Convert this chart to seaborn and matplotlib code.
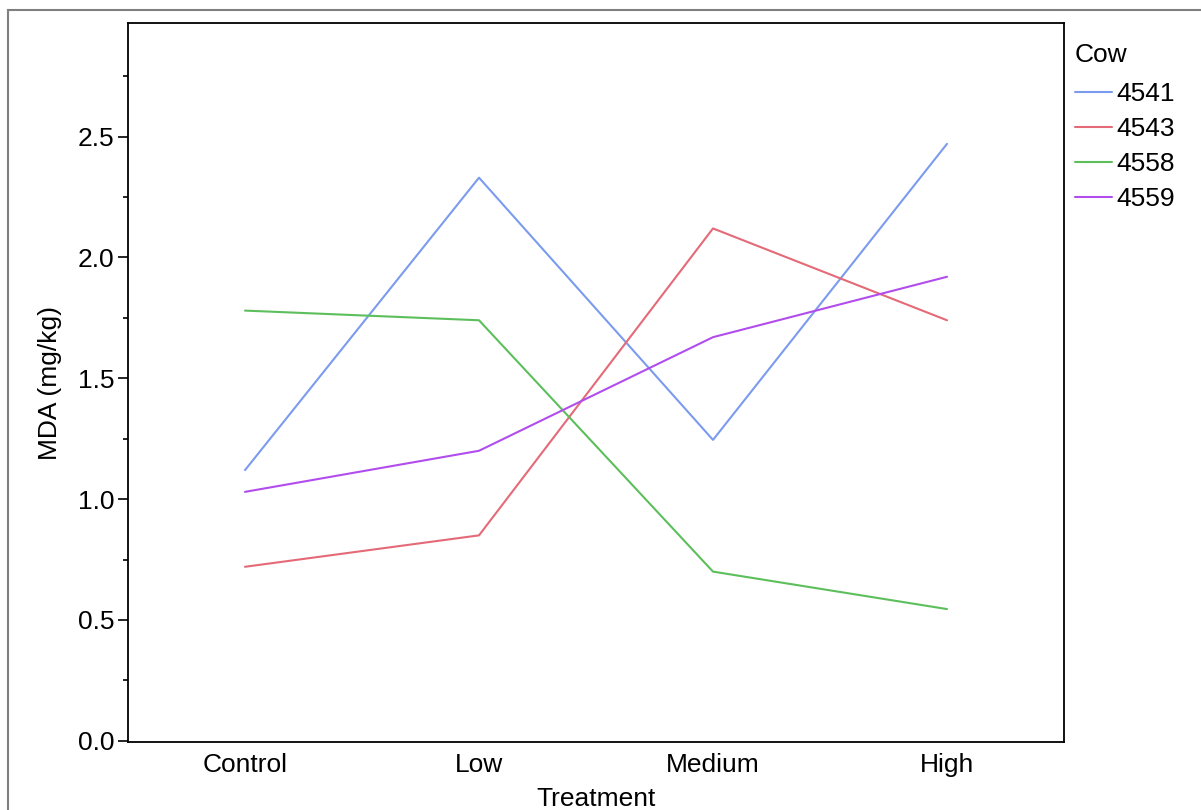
import matplotlib
matplotlib.use("Agg")
import matplotlib.pyplot as plt
import matplotlib.patches as mpatches
from matplotlib.ticker import MultipleLocator
import seaborn as sns
import pandas as pd

treatments = ["Control", "Low", "Medium", "High"]
cows = ["4541", "4543", "4558", "4559"]
mda_4541 = [1.12, 2.33, 1.245, 2.47]
mda_4543 = [0.72, 0.85, 2.12, 1.74]
mda_4558 = [1.78, 1.74, 0.70, 0.545]
mda_4559 = [1.03, 1.20, 1.67, 1.92]
colors = ["#7b9bef", "#e46a78", "#5cbf5c", "#b24ded"]

series = [mda_4541, mda_4543, mda_4558, mda_4559]
rows = []
for cow, vals in zip(cows, series):
    for t, v in zip(treatments, vals):
        rows.append({"Treatment": t, "Cow": cow, "MDA": v})
df = pd.DataFrame(rows)

sns.set_style("white")
plt.rcParams["font.family"] = ["Liberation Sans", "DejaVu Sans"]
plt.rcParams["text.color"] = "black"
plt.rcParams["axes.labelcolor"] = "black"
plt.rcParams["xtick.color"] = "black"
plt.rcParams["ytick.color"] = "black"

FS = 19

fig = plt.figure(figsize=(12.01, 8.10), dpi=100)
ax = fig.add_axes([128/1201, 1-742/810, (1064-128)/1201, (742-23)/810])

sns.lineplot(data=df, x="Treatment", y="MDA", hue="Cow", hue_order=cows,
             palette=dict(zip(cows, colors)), sort=False, linewidth=1.5,
             ax=ax, legend=True)

ax.set_xlim(-0.5, 3.5)
ax.set_ylim(-0.005, 2.97)
ax.yaxis.set_major_locator(MultipleLocator(0.5))
ax.yaxis.set_minor_locator(MultipleLocator(0.25))
ax.yaxis.set_major_formatter(matplotlib.ticker.FormatStrFormatter("%.1f"))
ax.tick_params(axis="y", which="major", length=7, width=1.2, direction="out",
               left=True, labelsize=FS, pad=3, color="black", labelcolor="black")
ax.tick_params(axis="y", which="minor", length=3.5, width=1.2, direction="out",
               left=True, color="black")
ax.tick_params(axis="x", which="major", length=0, labelsize=FS, pad=8,
               labelcolor="black")
for s in ax.spines.values():
    s.set_visible(True)
    s.set_color("black")
    s.set_linewidth(1.3)

ax.set_xlabel("Treatment", fontsize=FS, labelpad=7, color="black")
ax.set_ylabel("MDA (mg/kg)", fontsize=FS, labelpad=11, color="black")

handles, labels = ax.get_legend_handles_labels()
leg = ax.legend(handles=handles, labels=labels, title="Cow", frameon=False,
                fontsize=FS, title_fontsize=FS, loc="upper left",
                bbox_to_anchor=(1064/1201, 1 - 32/810), bbox_transform=fig.transFigure,
                handlelength=1.4, handletextpad=0.2, labelspacing=0.42,
                alignment="left", borderaxespad=0)
leg._legend_box.sep = 0.42 * FS + 3
for t in leg.get_texts():
    t.set_color("black")
leg.get_title().set_color("black")

border = mpatches.Rectangle((8/1201, -0.05), 1.2, 1 - 10/810 + 0.05,
                            transform=fig.transFigure, fill=False,
                            edgecolor="#7f7f7f", linewidth=1.5)
fig.add_artist(border)

fig.savefig("out.png", dpi=100)
